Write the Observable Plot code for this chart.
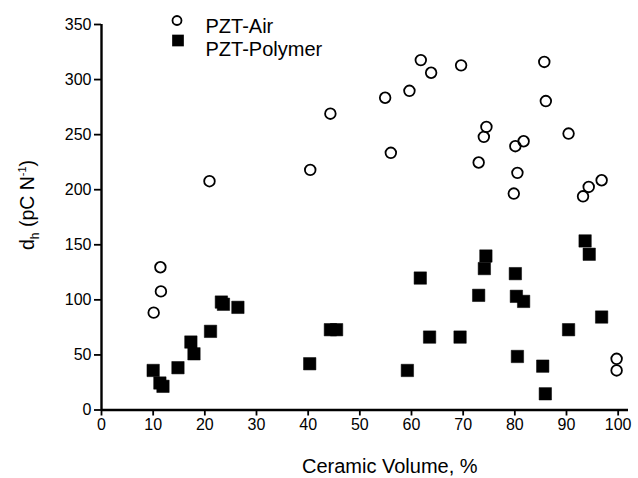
<!DOCTYPE html>
<html><head><meta charset="utf-8">
<script src="https://cdn.jsdelivr.net/npm/d3@7"></script>
<script src="https://cdn.jsdelivr.net/npm/@observablehq/plot@0.6"></script>
<style>body{margin:0;background:#fff} #chart{width:638px;height:478px}</style>
</head><body><div id="chart"></div>
<script>
const airX = [10.1, 11.5, 11.4, 20.9, 40.4, 44.3, 54.9, 56.0, 59.6, 61.8, 63.8, 69.6, 73.0, 74.0, 74.5, 79.8, 80.1, 80.5, 81.7, 85.7, 86.0, 90.4, 93.2, 94.3, 96.8, 99.7, 99.7];
const airY = [88.4, 107.7, 129.6, 207.7, 218, 269, 283.5, 233.5, 289.8, 317.7, 306.2, 312.9, 224.7, 248, 257, 196.5, 239.5, 215.3, 244, 316, 280.5, 251, 194, 202.5, 208.6, 46.5, 35.9];
const polyX = [10.0, 11.3, 11.9, 14.8, 17.3, 17.9, 21.1, 23.2, 23.6, 26.4, 40.3, 44.3, 45.5, 59.2, 61.7, 63.5, 69.4, 73.0, 74.1, 74.4, 80.1, 80.3, 81.7, 80.5, 85.4, 85.9, 90.4, 93.6, 94.4, 96.8];
const polyY = [35.9, 24.5, 21.5, 38.4, 61.7, 51, 71.4, 98, 96, 93.2, 42, 72.9, 72.9, 35.9, 119.8, 66.2, 66.2, 104.1, 128.4, 139.8, 123.8, 103.2, 98.6, 48.6, 39.8, 14.7, 72.9, 153.5, 141.4, 84.4];
const xTicks = [0, 10, 20, 30, 40, 50, 60, 70, 80, 90, 100];
const yTicks = [0, 50, 100, 150, 200, 250, 300, 350];
const seriesNames = ["PZT-Air", "PZT-Polymer"];

const air = airX.map((x, i) => ({x, y: airY[i]}));
const poly = polyX.map((x, i) => ({x, y: polyY[i]}));

const chart = Plot.plot({
  width: 638, height: 478,
  marginLeft: 101, marginRight: 10, marginTop: 24, marginBottom: 68.5,
  style: {fontFamily: "'Liberation Sans', Arial, sans-serif", fontSize: "16px", color: "#000", background: "#fff"},
  x: {domain: [0, 102]},
  y: {domain: [0, 350]},
  marks: [
    Plot.axisX({ticks: xTicks, tickSize: 6, tickPadding: 3, strokeWidth: 1.8, label: null, fontSize: 16}),
    Plot.axisY({ticks: yTicks, tickSize: 7, tickPadding: 3, strokeWidth: 1.8, label: null, fontSize: 16}),
    Plot.ruleY([0], {stroke: "black", strokeWidth: 2.4}),
    Plot.ruleX([0], {stroke: "black", strokeWidth: 2.4}),
    Plot.dot(poly, {x: "x", y: "y", symbol: "square", r: 7, fill: "black", stroke: "black", strokeWidth: 0.5}),
    Plot.dot(air, {x: "x", y: "y", symbol: "circle", r: 5.3, fill: "none", stroke: "black", strokeWidth: 1.8}),
    Plot.dot([seriesNames[0]], {frameAnchor: "top-left", dx: 75.5, dy: -4, r: 4.5, fill: "none", stroke: "black", strokeWidth: 1.8}),
    Plot.dot([seriesNames[1]], {frameAnchor: "top-left", dx: 76.5, dy: 16, symbol: "square", r: 6.6, fill: "black"}),
    Plot.text([seriesNames[0]], {frameAnchor: "top-left", text: d => d, dx: 104, dy: -6, textAnchor: "start", fontSize: 20}),
    Plot.text([seriesNames[1]], {frameAnchor: "top-left", text: d => d, dx: 104, dy: 17, textAnchor: "start", fontSize: 20})
  ]
});
document.getElementById("chart").appendChild(chart);

const svg = d3.select(chart);
svg.append("text")
  .attr("x", 302).attr("y", 473)
  .attr("text-anchor", "start")
  .attr("font-size", 20)
  .attr("fill", "black")
  .text("Ceramic Volume, %");
const yl = svg.append("text")
  .attr("transform", "translate(34,205) rotate(-90)")
  .attr("text-anchor", "middle")
  .attr("font-size", 19.5)
  .attr("fill", "black");
yl.append("tspan").text("d");
yl.append("tspan").attr("font-size", 12).attr("dy", 5).text("h");
yl.append("tspan").attr("dy", -5).text(" (pC N");
yl.append("tspan").attr("font-size", 11).attr("dy", -8).text("-1");
yl.append("tspan").attr("dy", 8).text(")");
</script>
</body></html>
